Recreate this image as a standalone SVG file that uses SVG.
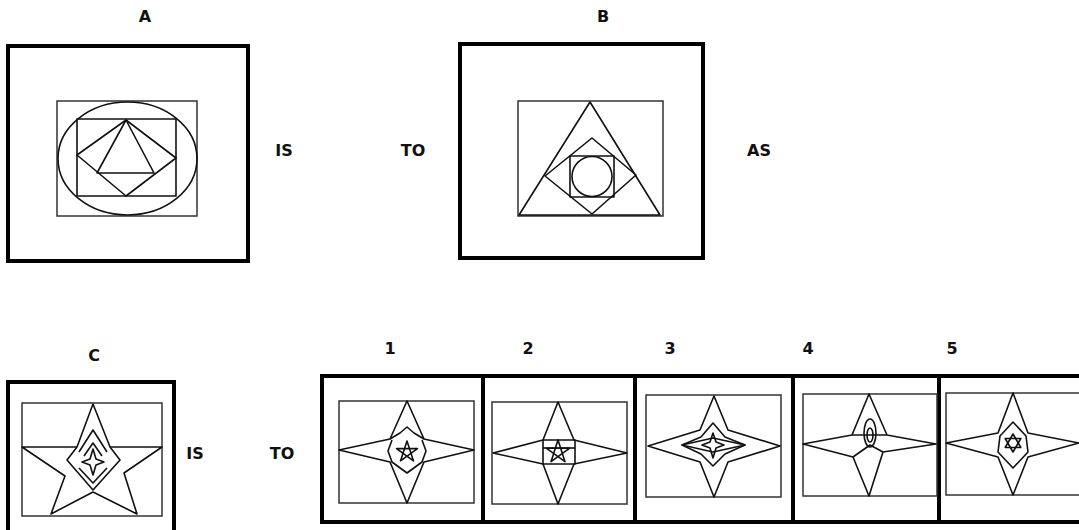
<svg xmlns="http://www.w3.org/2000/svg" width="1079" height="530" viewBox="0 0 1079 530">
<style>
.frame{fill:none;stroke:#000;stroke-width:4}
.box{fill:none;stroke:#333;stroke-width:1.5}
.ln{fill:none;stroke:#111;stroke-width:1.6;stroke-linejoin:round}
.lbl{font-family:"DejaVu Sans",sans-serif;font-weight:bold;font-size:16px;fill:#111;text-anchor:middle}
</style>
<rect width="1079" height="530" fill="#fff"/>
<g id="labels">
<text class="lbl" x="145" y="22">A</text>
<text class="lbl" x="603" y="22">B</text>
<text class="lbl" x="284" y="156">IS</text>
<text class="lbl" x="413" y="156">TO</text>
<text class="lbl" x="759" y="156">AS</text>
<text class="lbl" x="94" y="361">C</text>
<text class="lbl" x="195" y="459">IS</text>
<text class="lbl" x="282" y="459">TO</text>
<text class="lbl" x="390" y="354">1</text>
<text class="lbl" x="528" y="354">2</text>
<text class="lbl" x="670" y="354">3</text>
<text class="lbl" x="808" y="354">4</text>
<text class="lbl" x="952" y="354">5</text>
</g>
<g id="figA">
<rect class="frame" x="8" y="46" width="240" height="215"/>
<rect class="box" x="57" y="101" width="140" height="115"/>
<ellipse class="ln" cx="127.5" cy="158.5" rx="69.5" ry="56.5"/>
<rect class="ln" x="77" y="119" width="99" height="77"/>
<polygon class="ln" points="126,120 176,158 126,196 77,155"/>
<polygon class="ln" points="126,120 154,173 97,173"/>
</g>
<g id="figB">
<rect class="frame" x="460" y="44" width="243" height="214"/>
<rect class="box" x="518" y="101" width="145" height="115"/>
<polygon class="ln" points="590,102 660,215 519,215"/>
<polygon class="ln" points="592,138 636,175 592,214 545,176"/>
<rect class="ln" x="570" y="156" width="44" height="41"/>
<circle class="ln" cx="592" cy="176.5" r="20"/>
</g>
<g id="figC">
<rect class="frame" x="8" y="382" width="166" height="160"/>
<rect class="box" x="22" y="403" width="140" height="113"/>
<polyline class="ln" points="77,447 22,447 65,476 51,514 93,492 137,514 124,473 162,447 110,447"/>
<polygon class="ln" points="93,404 77,447 67,460 93,490 120,460 110,447"/>
<path class="ln" d="M79,452 L93,430 L107,452"/>
<path class="ln" d="M84,456 L93,443 L102,456"/>
<path class="ln" d="M79,468 L93,483 L107,468"/>
<polygon class="ln" points="93,449 96,459 104,462 96,465 93,475 90,465 82,462 90,459"/>
</g>
<g id="options">
<line class="frame" x1="321" y1="376" x2="1079" y2="376"/>
<line class="frame" x1="321" y1="522" x2="1079" y2="522"/>
<line class="frame" x1="322" y1="374" x2="322" y2="524"/>
<line class="frame" x1="483" y1="374" x2="483" y2="524"/>
<line class="frame" x1="635" y1="374" x2="635" y2="524"/>
<line class="frame" x1="793" y1="374" x2="793" y2="524"/>
<line class="frame" x1="939" y1="374" x2="939" y2="524"/>
</g>
<g id="opt1">
<rect class="box" x="339" y="401" width="135" height="102"/>
<polygon class="ln" points="407,401 424,439 474,450 424,462 407,503 390,462 339,450 390,439"/>
<path class="ln" d="M390,439 L400,433 L407,427 L414,433 L424,439"/>
<polyline class="ln" points="392,440 388,451 392,462 407,473 422,462 426,451 422,440"/>
<polygon class="ln" points="407,441 413.5,460.9 396.5,448.6 417.5,448.6 400.5,460.9"/>
</g>
<g id="opt2">
<rect class="box" x="492" y="402" width="135" height="102"/>
<polygon class="ln" points="558,402 574,440 627,453 574,464 558,504 543,464 493,453 543,440"/>
<rect class="ln" x="543" y="440" width="32" height="24"/>
<line class="ln" x1="543" y1="448" x2="575" y2="448"/>
<polygon class="ln" points="558,440 565,461.7 546.6,448.3 569.4,448.3 551,461.7"/>
</g>
<g id="opt3">
<rect class="box" x="646" y="395" width="135" height="102"/>
<polygon class="ln" points="714,396 728,430 780,446 728,462 714,497 700,462 648,446 700,430"/>
<polygon class="ln" points="713,423 725,437 745,445 725,454 713,466 701,454 682,445 701,437"/>
<path class="ln" d="M682,445 L713,438 L745,445 L713,452 Z"/>
<polygon class="ln" points="713,433 716,442 724,445 716,448 713,458 710,448 702,445 710,442"/>
</g>
<g id="opt4">
<rect class="box" x="803" y="394" width="134" height="102"/>
<polygon class="ln" points="869,394 887,435 936,444 883,452 869,496 853,457 803,444 852,435"/>
<polyline class="ln" points="852,435 887,435"/>
<polyline class="ln" points="853,457 870,445 883,452"/>
<ellipse class="ln" cx="870" cy="433" rx="6" ry="14"/>
<ellipse class="ln" cx="870" cy="435" rx="3" ry="7"/>
</g>
<g id="opt5">
<rect class="box" x="946" y="393" width="140" height="102"/>
<polygon class="ln" points="1013,393 1028,433 1079,443 1028,457 1013,495 998,457 946,443 998,433"/>
<polygon class="ln" points="1013,422 1026,436 1028,452 1013,468 998,452 1000,436"/>
<polygon class="ln" points="1013,434 1020.8,447.5 1005.2,447.5"/>
<polygon class="ln" points="1013,452 1020.8,438.5 1005.2,438.5"/>
</g>
</svg>
